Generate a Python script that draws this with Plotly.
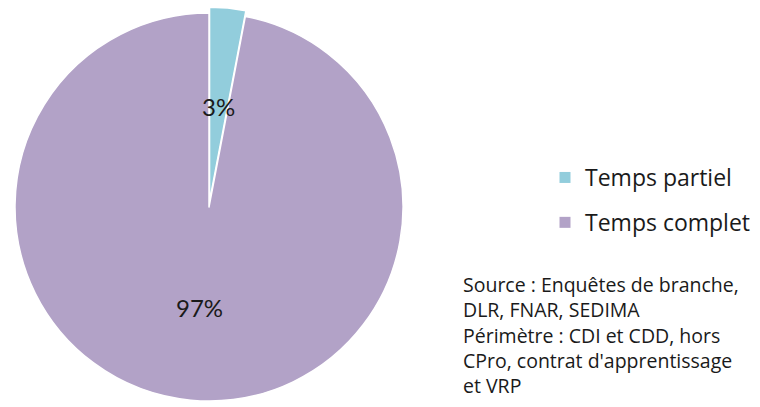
import math
import plotly.graph_objects as go

# ---- data ----
labels = ["Temps partiel", "Temps complet"]
values = [3, 97]
text_labels = ["3%", "97%"]
colors = ["#92CDDC", "#B2A2C7"]
pulls = [0.03, 0]
source_lines = [
    "Source : Enquêtes de branche,",
    "DLR, FNAR, SEDIMA",
    "Périmètre : CDI et CDD, hors",
    "CPro, contrat d'apprentissage",
    "et VRP",
]

# ---- layout constants ----
W, H = 760, 407
CX, CY, R = 209, 207, 194      # pixel centre / radius of the pie
LABEL_FRAC = 0.52
SRC_X, SRC_TOP = 461, 269

half = R * (1 + max(pulls))
dom_x = [(CX - half) / W, (CX + half) / W]
dom_y = [(H - CY - half) / H, (H - CY + half) / H]

fig = go.Figure()
fig.add_trace(go.Pie(
    labels=labels, values=values, sort=False, direction="clockwise",
    rotation=0, pull=pulls, textinfo="none", showlegend=False,
    marker=dict(colors=colors, line=dict(color="white", width=1.5)),
    domain=dict(x=dom_x, y=dom_y), hoverinfo="label+percent",
))

# legend entries (one per slice, so they can be spaced apart)
for i, (lab, col) in enumerate(zip(labels, colors)):
    fig.add_trace(go.Scatter(
        x=[None], y=[None], mode="markers", name=lab, legendgroup=f"g{i}",
        marker=dict(symbol="square", size=11, color=col),
        hoverinfo="skip",
    ))

# percentage labels at the slice mid-angles
total = sum(values)
cum = 0
annotations = []
for v, t in zip(values, text_labels):
    theta = 2 * math.pi * (cum + v / 2) / total
    cum += v
    px = CX + LABEL_FRAC * R * math.sin(theta)
    py = CY - LABEL_FRAC * R * math.cos(theta)
    annotations.append(dict(
        x=px / W, y=(H - py) / H, xref="paper", yref="paper",
        text=t, showarrow=False, xanchor="center", yanchor="middle",
        font=dict(family="Lato", size=24, color="#1a1a1a"),
    ))

annotations.append(dict(
    x=SRC_X / W, y=(H - SRC_TOP) / H, xref="paper", yref="paper",
    text="<br>".join(source_lines), showarrow=False, align="left",
    xanchor="left", yanchor="top",
    font=dict(family="Open Sans", size=19.5, color="#1a1a1a"),
))

fig.update_layout(
    width=W, height=H, margin=dict(l=0, r=0, t=0, b=0),
    paper_bgcolor="white", plot_bgcolor="white",
    xaxis=dict(visible=False), yaxis=dict(visible=False),
    showlegend=True,
    legend=dict(
        x=545 / W, y=(H - 200) / H, xanchor="left", yanchor="middle",
        font=dict(family="Open Sans", size=23, color="#1a1a1a"),
        tracegroupgap=12, bgcolor="rgba(0,0,0,0)",
    ),
    annotations=annotations,
)

fig.write_html(
    "out.html",
    config={"displayModeBar": False},
    post_script="document.body.style.margin='0';document.body.style.overflow='hidden';",
)
